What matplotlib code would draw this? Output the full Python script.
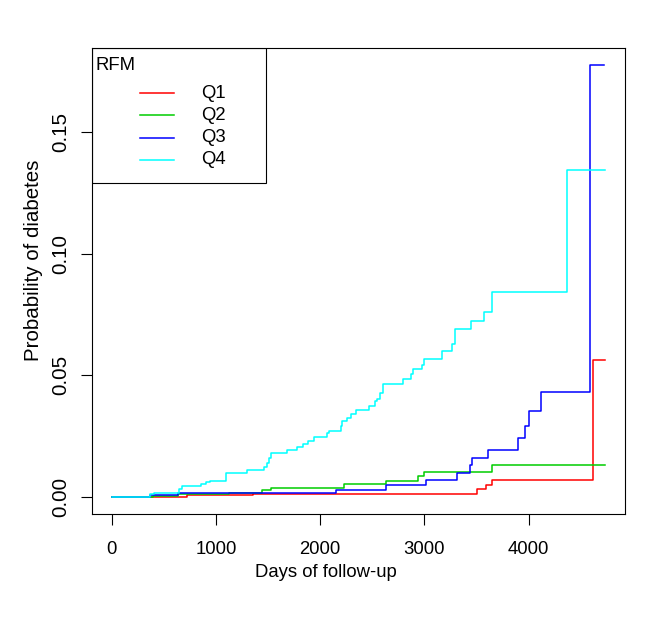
import matplotlib.pyplot as plt
from matplotlib.patches import Rectangle

plt.rcParams["font.family"] = ["Liberation Sans", "DejaVu Sans"]

# cumulative incidence (1 - KM) step curves
q1_days = [0, 719, 1351, 3508, 3594, 3652, 4620, 4730]
q1_prob = [0, 0.0008, 0.0012, 0.0030, 0.0048, 0.0069, 0.0561, 0.0561]

q2_days = [0, 400, 640, 1130, 1445, 1525, 2229, 2635, 2942, 2996, 3652, 4730]
q2_prob = [0, 0.0003, 0.0010, 0.0017, 0.0028, 0.0037, 0.0051, 0.0065,
           0.0085, 0.0103, 0.0131, 0.0131]

q3_days = [0, 368, 636, 2149, 2635, 3012, 3309, 3434, 3460, 3613, 3901,
           3965, 4003, 4115, 4585, 4720]
q3_prob = [0, 0.0007, 0.0015, 0.0028, 0.0048, 0.0069, 0.0099, 0.0131,
           0.0161, 0.0194, 0.0241, 0.0293, 0.0351, 0.0431, 0.1775, 0.1775]

q4_days = [0, 368, 406, 646, 678, 854, 902, 943, 1100, 1301, 1461, 1494,
           1509, 1532, 1685, 1781, 1835, 1883, 1941, 2062, 2085, 2197, 2213,
           2254, 2293, 2347, 2470, 2526, 2542, 2571, 2606, 2798, 2868, 2894,
           2974, 2993, 3165, 3268, 3293, 3444, 3572, 3652, 4371, 4735]
q4_prob = [0, 0.0010, 0.0017, 0.0030, 0.0044, 0.0051, 0.0059, 0.0066,
           0.0096, 0.0110, 0.0124, 0.0138, 0.0158, 0.0179, 0.0191, 0.0205,
           0.0218, 0.0230, 0.0244, 0.0262, 0.0269, 0.0293, 0.0313, 0.0326,
           0.0342, 0.0358, 0.0375, 0.0393, 0.0402, 0.0427, 0.0464, 0.0485,
           0.0507, 0.0526, 0.0540, 0.0565, 0.0599, 0.0629, 0.0689, 0.0723,
           0.0760, 0.0843, 0.1343, 0.1343]

labels = ["Q1", "Q2", "Q3", "Q4"]
colors = ["#FF0000", "#00CD00", "#0000FF", "#00FFFF"]
x_ticks = [0, 1000, 2000, 3000, 4000]
y_ticks = [0.00, 0.05, 0.10, 0.15]

series = [(q1_days, q1_prob), (q2_days, q2_prob),
          (q3_days, q3_prob), (q4_days, q4_prob)]

# the reference is stretched a little vertically, so rotated text runs longer
fs_h = 13.3
fs_v = 14.8

fig = plt.figure(figsize=(6.69, 6.26), dpi=100)
ax = fig.add_axes([0.1375, 0.1789, 0.7966, 0.7444])

for (d, p), col in zip(series, colors):
    ax.step(d, p, where="post", color=col, lw=1.1)

# R style limits: data range padded by 4%
xmax = max(max(d) for d, _ in series)
ymax = max(max(p) for _, p in series)
ax.set_xlim(-0.04 * xmax, 1.04 * xmax)
ax.set_ylim(-0.04 * ymax, 1.04 * ymax)

ax.set_xticks(x_ticks)
ax.set_xticklabels([str(t) for t in x_ticks], fontsize=fs_h)
ax.set_yticks(y_ticks)
ax.set_yticklabels([f"{t:.2f}" for t in y_ticks], rotation=90, va="center",
                   fontsize=fs_v)
ax.tick_params(direction="out", length=7.9, width=0.8)
ax.tick_params(axis="x", pad=11.5)
ax.tick_params(axis="y", pad=8)
for s in ax.spines.values():
    s.set_linewidth(0.8)

ax.set_xlabel("Days of follow-up", fontsize=fs_h)
ax.set_ylabel("Probability of diabetes", fontsize=fs_v)
ax.xaxis.set_label_coords(0.439, -0.108)
ax.yaxis.set_label_coords(-0.092, 0.545)

# legend drawn the way R's legend() lays it out
ax.add_patch(Rectangle((0, 0.71), 0.326, 0.29, transform=ax.transAxes,
                       fill=False, lw=0.8, edgecolor="black", zorder=5))
ax.text(0.0075, 0.9635, "RFM", transform=ax.transAxes, fontsize=fs_h,
        ha="left", va="center")
for i, (lab, col) in enumerate(zip(labels, colors)):
    yy = 0.9034 - i * 0.0479
    ax.plot([0.090, 0.154], [yy, yy], transform=ax.transAxes, color=col,
            lw=1.1)
    ax.text(0.2045, yy, lab, transform=ax.transAxes, fontsize=fs_h,
            ha="left", va="center")

fig.savefig("out.png", dpi=100)
